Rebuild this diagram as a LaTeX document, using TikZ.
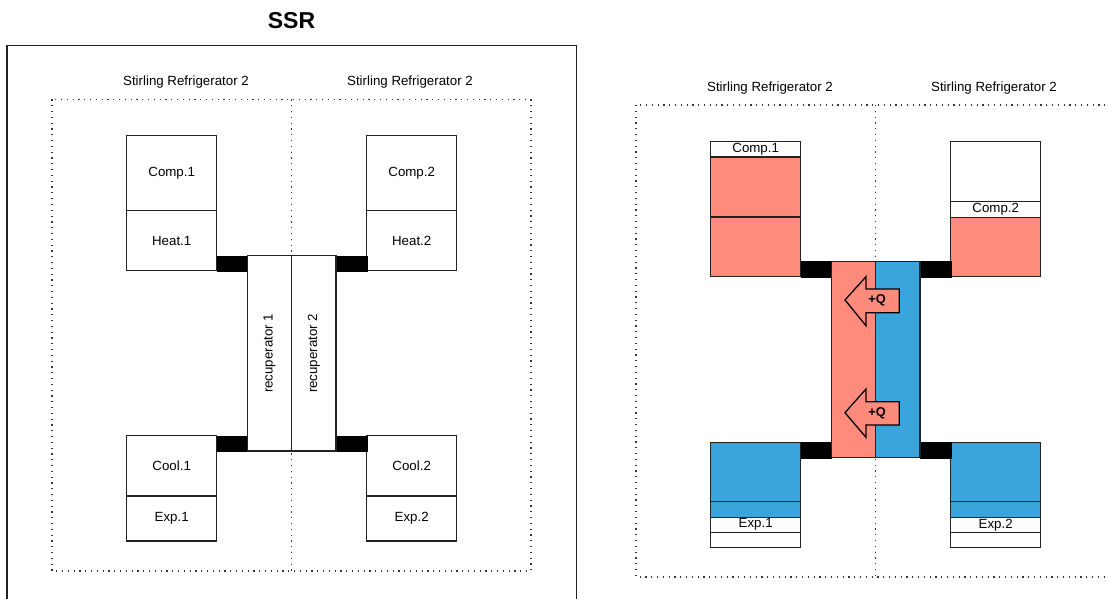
\documentclass[tikz,border=0pt]{standalone}
\usepackage{fontspec}
\setmainfont{Liberation Sans}
\definecolor{salmon}{HTML}{FF8B7C}
\definecolor{skyb}{HTML}{3AA4DC}
\definecolor{lineg}{HTML}{222222}
\tikzset{
  box/.style={draw=lineg, line width=1.3pt, fill=white, inner sep=0pt, outer sep=0pt,
    anchor=north west, font=\fontsize{13.3}{15}\selectfont},
  hot/.style={box, fill=salmon},
  cold/.style={box, fill=skyb},
  joint/.style={draw=black, fill=black, inner sep=0pt, outer sep=0pt, anchor=north west},
  dots/.style={draw=black!80, line width=1.3pt, dash pattern=on 1.2pt off 4.6pt},
  lbl/.style={font=\fontsize{13.3}{15}\selectfont, inner sep=0pt},
  heatarrow/.style={draw=black, line width=1.3pt, fill=salmon, line join=miter},
  qlbl/.style={font=\bfseries\fontsize{12.8}{14}\selectfont, inner sep=0pt}
}
\begin{document}
\begin{tikzpicture}[x=1pt,y=-1pt]
\useasboundingbox (0,0) rectangle (1109,599);
\clip (0,0) rectangle (1109,599);
\fill[white] (0,0) rectangle (1109,599);

% ---------- left: SSR ----------
\node[font=\bfseries\fontsize{23}{26}\selectfont, inner sep=0pt] (ssr) at (291.5,20.5) {SSR};
\draw[draw=lineg, line width=1.5pt] (7,45.5) rectangle (576.5,620);
\draw[dots] (52,99.5) rectangle (531,571);
\draw[dots] (291.7,99.5) -- (291.7,571);
\node[lbl] (sra) at (186,82) {Stirling Refrigerator 2};
\node[lbl] (srb) at (410,82) {Stirling Refrigerator 2};

\node[box, minimum width=90pt, minimum height=75pt] (comp1) at (126.7,135.7) {Comp.1};
\node[box, minimum width=90pt, minimum height=60pt] (heat1) at (126.7,210.7) {Heat.1};
\node[box, minimum width=90pt, minimum height=75pt] (comp2) at (366.7,135.7) {Comp.2};
\node[box, minimum width=90pt, minimum height=60pt] (heat2) at (366.7,210.7) {Heat.2};
\node[box, minimum width=90pt, minimum height=60.3pt] (cool1) at (126.7,435.7) {Cool.1};
\node[box, minimum width=90pt, minimum height=45pt] (exp1) at (126.7,496) {Exp.1};
\node[box, minimum width=90pt, minimum height=60.3pt] (cool2) at (366.7,435.7) {Cool.2};
\node[box, minimum width=90pt, minimum height=45pt] (exp2) at (366.7,496) {Exp.2};

\node[joint, minimum width=30.6pt, minimum height=15pt] (j1) at (216.7,255.7) {};
\node[joint, minimum width=30.7pt, minimum height=15pt] (j2) at (336,255.7) {};
\node[joint, minimum width=30.6pt, minimum height=15.3pt] (j3) at (216.7,435.7) {};
\node[joint, minimum width=30.7pt, minimum height=15.3pt] (j4) at (336,435.7) {};

\node[box, minimum width=44.4pt, minimum height=195.3pt] (rec1) at (247.3,255.7) {};
\node[box, minimum width=44.3pt, minimum height=195.3pt] (rec2) at (291.7,255.7) {};
\node[lbl, rotate=90] (rec1t) at (rec1.center) {recuperator 1};
\node[lbl, rotate=90] (rec2t) at (rec2.center) {recuperator 2};

% ---------- right ----------
\draw[dots] (636,105) rectangle (1115,577);
\draw[dots] (875.7,105) -- (875.7,577);
\node[lbl] (src) at (770,88) {Stirling Refrigerator 2};
\node[lbl] (srd) at (994,88) {Stirling Refrigerator 2};

\node[box, minimum width=90pt, minimum height=15.3pt] (rc1) at (710.7,141.7) {Comp.1};
\node[hot, minimum width=90pt, minimum height=60pt] (rc1s) at (710.7,157) {};
\node[hot, minimum width=90pt, minimum height=59.7pt] (rh1) at (710.7,217) {};

\node[box, minimum width=90pt, minimum height=60pt] (rc2e) at (950.7,141.7) {};
\node[box, minimum width=90pt, minimum height=15.6pt] (rc2) at (950.7,201.7) {Comp.2};
\node[hot, minimum width=90pt, minimum height=59.4pt] (rh2) at (950.7,217.3) {};

\node[cold, minimum width=90pt, minimum height=59.4pt] (rk1) at (710.7,442.3) {};
\node[cold, minimum width=90pt, minimum height=15.6pt] (rk1b) at (710.7,501.7) {};
\node[box, minimum width=90pt, minimum height=15pt] (re1) at (710.7,517.3) {Exp.1};
\node[box, minimum width=90pt, minimum height=15pt] (re1b) at (710.7,532.3) {};

\node[cold, minimum width=90pt, minimum height=59.4pt] (rk2) at (950.7,442.3) {};
\node[cold, minimum width=90pt, minimum height=15.6pt] (rk2b) at (950.7,501.7) {};
\node[box, minimum width=90pt, minimum height=15pt] (re2) at (950.7,517.3) {Exp.2};
\node[box, minimum width=90pt, minimum height=15pt] (re2b) at (950.7,532.3) {};

\node[joint, minimum width=30.6pt, minimum height=15.5pt] (rj1) at (800.7,261.2) {};
\node[joint, minimum width=30.7pt, minimum height=15.5pt] (rj2) at (920,261.2) {};
\node[joint, minimum width=30.6pt, minimum height=15.5pt] (rj3) at (800.7,442.3) {};
\node[joint, minimum width=30.7pt, minimum height=15.5pt] (rj4) at (920,442.3) {};

\node[hot, minimum width=44.4pt, minimum height=196.5pt] (rr1) at (831.3,261.2) {};
\node[cold, minimum width=44.3pt, minimum height=196.5pt] (rr2) at (875.7,261.2) {};

\draw[heatarrow] (845,300) -- (866,276.7) -- (866,289) -- (899.3,289) -- (899.3,312.7)
  -- (866,312.7) -- (866,325.7) -- cycle;
\node[qlbl] (q1) at (877,300.5) {+Q};
\draw[heatarrow] (845,412.7) -- (866,389) -- (866,401.7) -- (899.3,401.7) -- (899.3,425)
  -- (866,425) -- (866,437.3) -- cycle;
\node[qlbl] (q2) at (877,413.2) {+Q};
\end{tikzpicture}
\end{document}
